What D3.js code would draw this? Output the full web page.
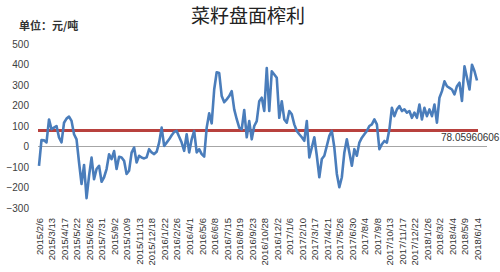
<!DOCTYPE html>
<html><head><meta charset="utf-8">
<script src="https://cdn.jsdelivr.net/npm/d3@7"></script>
<style>body{margin:0;background:#fff}svg{display:block}</style>
</head><body>
<svg id="c" width="500" height="272"></svg>
<script>
const title = "菜籽盘面榨利";
const unitLabel = "单位：元/吨";
const xTickLabels = ["2015/2/6","2015/3/13","2015/4/17","2015/5/22","2015/6/26","2015/7/31","2015/9/2","2015/10/9","2015/11/13","2015/12/18","2016/1/22","2016/2/26","2016/4/1","2016/5/6","2016/6/8","2016/7/15","2016/8/19","2016/9/23","2016/10/28","2016/12/2","2017/1/6","2017/2/10","2017/3/17","2017/4/21","2017/5/26","2017/6/30","2017/8/4","2017/9/8","2017/10/13","2017/11/17","2017/12/22","2018/1/26","2018/3/2","2018/4/4","2018/5/9","2018/6/14"];
const yTicks = [500,400,300,200,100,0,-100,-200,-300];
const profit = [
 -94,32,30,20,132,84,92,100,44,20,116,136,146,125,60,35,-78,-183,-90,-252,
 -143,-54,-160,-110,-94,-172,-150,-110,-38,-62,-22,-110,-50,-54,-70,-134,-118,-30,-5,-78,
 -45,-54,-58,
 -53,-13,-29,-37,-26,19,92,3,19,35,55,71,76,48,19,-21,60,-29,35,76,-29,-13,-37,-49,92,162,
 113,278,362,358,246,216,230,246,270,181,133,92,84,178,45,124,
 35,100,124,221,238,173,383,173,367,351,335,140,221,132,116,173,157,108,76,60,45,28,124,
 -53,-5,45,-45,-150,-61,-45,3,52,76,-5,-134,-199,-150,-29,35,-29,-94,-13,
 -45,19,43,60,76,100,108,132,108,-13,11,27,19,84,189,148,181,197,173,181,165,173,140,165,
 140,205,132,189,148,181,148,205,116,238,270,318,294,286,278,254,294,311,222,391,335,278,
 399,367,322
];
const meanValue = 78.05960606;
const meanLabel = "78.05960606";

const svg = d3.select("#c");
const x = d3.scaleLinear().domain([0, profit.length - 1]).range([39, 477]);
const y = d3.scaleLinear().domain([-300, 500]).range([208, 44]);

svg.append("text").attr("x", 248).attr("y", 23).attr("text-anchor", "middle")
  .attr("font-family", "'Noto Sans CJK SC'").attr("font-size", 19).attr("fill", "#222").text(title);
svg.append("text").attr("x", 19).attr("y", 30)
  .attr("font-family", "'Noto Sans CJK SC'").attr("font-weight", "bold").attr("font-size", 11).attr("fill", "#333").text(unitLabel);

// y axis labels
const yAxis = d3.axisLeft(y).tickValues(yTicks).tickSize(0).tickPadding(0);
const gy = svg.append("g").attr("transform", "translate(29,0)").call(yAxis);
gy.select(".domain").remove();
gy.selectAll("text").attr("font-family", "'Liberation Sans', Arial").attr("font-size", 10).attr("fill", "#404040");

// zero line
svg.append("line").attr("x1", 38).attr("x2", 487).attr("y1", y(0)).attr("y2", y(0))
  .attr("stroke", "#a6a6a6").attr("stroke-width", 1);

// x tick labels
const xAxis = d3.axisBottom(x).tickValues(xTickLabels.map((d, i) => i * 5))
  .tickFormat((d) => xTickLabels[d / 5]).tickSize(0);
const gx = svg.append("g").attr("transform", "translate(0,218)").call(xAxis);
gx.select(".domain").remove();
gx.selectAll("text").attr("font-family", "'Liberation Sans', Arial").attr("font-size", 9.5).attr("fill", "#333")
  .attr("text-anchor", "end").attr("dy", "0.35em").attr("transform", "rotate(-90)").attr("x", 0).attr("y", 0);

// mean line
svg.append("line").attr("x1", 38).attr("x2", 478).attr("y1", y(meanValue)).attr("y2", y(meanValue))
  .attr("stroke", "#b8413e").attr("stroke-width", 3);
svg.append("text").attr("x", 441).attr("y", y(meanValue) + 11)
  .attr("font-family", "'Liberation Sans', Arial").attr("font-size", 10).attr("fill", "#333").text(meanLabel);

// data line
const line = d3.line().x((d, i) => x(i)).y((d) => y(d));
svg.append("path").datum(profit).attr("d", line).attr("fill", "none")
  .attr("stroke", "#4a7dbb").attr("stroke-width", 2.6).attr("stroke-linejoin", "round");
</script>
</body></html>
